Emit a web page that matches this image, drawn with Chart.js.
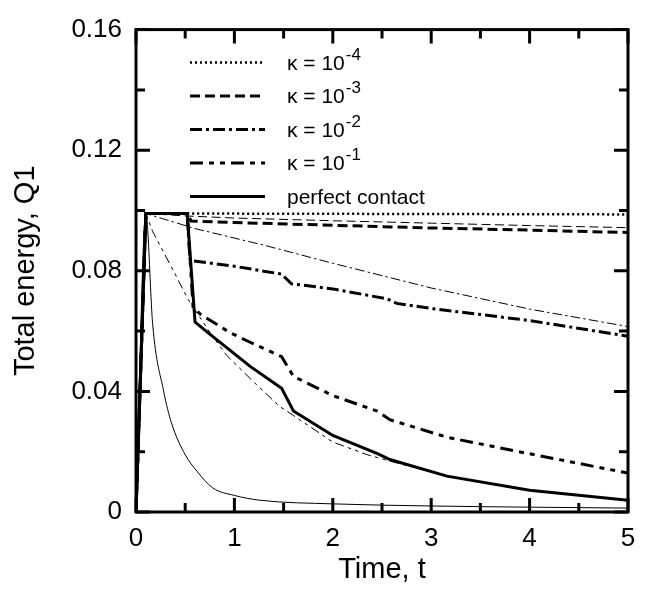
<!DOCTYPE html>
<html>
<head>
<meta charset="utf-8">
<script src="https://cdn.jsdelivr.net/npm/chart.js@4/dist/chart.umd.min.js"></script>
<style>
  html, body { margin: 0; padding: 0; background: #fff; }
  #wrap { width: 648px; height: 590px; }
</style>
</head>
<body>
<div id="wrap"><canvas id="grafico" width="648" height="590"></canvas></div>
<script>
// Datos (t, Q1)
// curvas gruesas (con meseta hasta t = 0.5)
const tK4 = [0, 0.1, 0.52, 5];
const qK4 = [0, 0.099, 0.099, 0.0987];
const tK3 = [0, 0.1, 0.52, 0.56, 1, 2, 3, 4, 5];
const qK3 = [0, 0.099, 0.099, 0.0965, 0.0960, 0.0951, 0.0942, 0.0935, 0.0927];
const tK2 = [0, 0.1, 0.52, 0.55, 1, 1.48, 1.58, 2, 2.55, 2.65, 3, 4, 5];
const qK2 = [0, 0.099, 0.099, 0.0834, 0.0815, 0.0789, 0.0757, 0.0740, 0.0707, 0.0692, 0.0675, 0.0635, 0.0583];
const tK1 = [0, 0.1, 0.52, 0.58, 0.65, 0.95, 1.16, 1.48, 1.6, 2, 2.45, 2.58, 3.16, 4, 5];
const qK1 = [0, 0.099, 0.099, 0.068, 0.0657, 0.0596, 0.0563, 0.0515, 0.045, 0.0386, 0.0335, 0.0306, 0.0248, 0.0193, 0.0129];
const tPC = [0, 0.1, 0.52, 0.6, 0.75, 1.16, 1.48, 1.6, 2, 2.46, 2.58, 3.16, 4, 5];
const qPC = [0, 0.099, 0.099, 0.063, 0.059, 0.0483, 0.041, 0.0335, 0.0254, 0.0193, 0.0174, 0.0119, 0.0072, 0.0039];

// curvas finas (sin meseta)
const tK4f = [0, 0.1, 5];
const qK4f = [0, 0.099, 0.0987];
const tK3f = [0, 0.1, 0.5, 1, 2, 3, 4, 5];
const qK3f = [0, 0.099, 0.0982, 0.0975, 0.0966, 0.0958, 0.0950, 0.0943];
const tK2f = [0, 0.1, 0.6, 1.3, 2, 3, 4, 5];
const qK2f = [0, 0.099, 0.094, 0.0885, 0.0825, 0.0743, 0.0673, 0.0615];
const tK1f = [0, 0.1, 0.17, 0.38, 0.53, 0.75, 0.92, 1.2, 1.46, 1.6, 2, 2.35, 2.6, 3.16, 4, 5];
const qK1f = [0, 0.099, 0.093, 0.080, 0.0705, 0.0596, 0.052, 0.043, 0.035, 0.032, 0.0232, 0.019, 0.0167, 0.0119, 0.0072, 0.0039];
const tPCf = [0, 0.1, 0.17, 0.28, 0.36, 0.5, 0.62, 0.78, 1, 1.26, 2, 3, 4, 5];
const qPCf = [0, 0.099, 0.062, 0.0402, 0.0296, 0.019, 0.0135, 0.008, 0.0055, 0.0039, 0.0027, 0.002, 0.0016, 0.0013];

const xTicks = [0, 1, 2, 3, 4, 5];
const yTicks = [0, 0.04, 0.08, 0.12, 0.16];

const leyenda = [
    { base: 'κ = 10', exp: '-4' },
    { base: 'κ = 10', exp: '-3' },
    { base: 'κ = 10', exp: '-2' },
    { base: 'κ = 10', exp: '-1' },
    { base: 'perfect contact', exp: '' }
];

const FUENTE = '"Liberation Sans", Arial, sans-serif';

// Estilos de línea
const estilos = {
    k4: [2, 3],
    k3: [10, 5],
    k2: [12, 4, 3, 4],
    k1: [13, 6, 5, 6, 5, 6],
    pc: []
};

function puntos(ts, qs) {
    return ts.map((t, i) => ({ x: t, y: qs[i] }));
}

function serie(ts, qs, dash, ancho, extra) {
    return Object.assign({
        data: puntos(ts, qs),
        borderColor: '#000',
        backgroundColor: '#000',
        borderWidth: ancho,
        borderDash: dash,
        pointRadius: 0,
        tension: 0,
        fill: false
    }, extra || {});
}

const escalar = (d, f) => d.map(v => v * f);

const datasets = [
    serie(tK4f, qK4f, [2, 3], 1),
    serie(tK3f, qK3f, escalar(estilos.k3, 0.9), 1),
    serie(tK2f, qK2f, escalar(estilos.k2, 0.8), 1),
    serie(tK1f, qK1f, escalar(estilos.k1, 0.7), 1),
    serie(tPCf, qPCf, [], 1, { cubicInterpolationMode: 'monotone' }),
    serie(tK4, qK4, estilos.k4, 2.5),
    serie(tK3, qK3, estilos.k3, 3),
    serie(tK2, qK2, estilos.k2, 3),
    serie(tK1, qK1, estilos.k1, 3),
    serie(tPC, qPC, estilos.pc, 3)
];
const legendDash = [estilos.k4, estilos.k3, estilos.k2, estilos.k1, estilos.pc];

// Marco y marcas de escala hacia dentro
const marco = {
    id: 'marco',
    afterDatasetsDraw(chart) {
        const { ctx, chartArea: a, scales } = chart;
        ctx.save();
        ctx.strokeStyle = '#000';
        ctx.setLineDash([]);
        ctx.lineWidth = 3;
        ctx.strokeRect(a.left, a.top, a.right - a.left, a.bottom - a.top);
        for (let v = 0; v <= 5.0001; v += 0.5) {
            const x = scales.x.getPixelForValue(v);
            const len = Math.abs(v - Math.round(v)) < 1e-6 ? 14 : 9;
            ctx.beginPath();
            ctx.moveTo(x, a.bottom); ctx.lineTo(x, a.bottom - len);
            ctx.moveTo(x, a.top); ctx.lineTo(x, a.top + len);
            ctx.stroke();
        }
        for (let k = 0; k <= 8; k++) {
            const y = scales.y.getPixelForValue(k * 0.02);
            const len = k % 2 === 0 ? 14 : 9;
            ctx.beginPath();
            ctx.moveTo(a.left, y); ctx.lineTo(a.left + len, y);
            ctx.moveTo(a.right, y); ctx.lineTo(a.right - len, y);
            ctx.stroke();
        }
        ctx.restore();
    }
};

// Leyenda dibujada dentro del área
const leyendaPlugin = {
    id: 'leyendaPlugin',
    afterDraw(chart) {
        const { ctx, chartArea: a } = chart;
        ctx.save();
        ctx.fillStyle = '#000';
        ctx.strokeStyle = '#000';
        ctx.textBaseline = 'alphabetic';
        ctx.textAlign = 'left';
        leyenda.forEach((item, i) => {
            const y = a.top + 33 + i * 33.5;
            ctx.lineWidth = i === 0 ? 2.5 : 3;
            ctx.setLineDash(legendDash[i]);
            ctx.beginPath();
            ctx.moveTo(a.left + 54, y);
            ctx.lineTo(a.left + 129, y);
            ctx.stroke();
            ctx.setLineDash([]);
            ctx.font = '21px ' + FUENTE;
            const x0 = a.left + 151;
            ctx.fillText(item.base, x0, y + 7);
            if (item.exp) {
                const w = ctx.measureText(item.base).width;
                ctx.font = '17px ' + FUENTE;
                ctx.fillText(item.exp, x0 + w + 1, y - 3);
            }
        });
        ctx.restore();
    }
};

const ctx = document.getElementById('grafico').getContext('2d');
const chart = new Chart(ctx, {
    type: 'line',
    data: { datasets: datasets },
    plugins: [marco, leyendaPlugin],
    options: {
        responsive: false,
        animation: false,
        events: [],
        layout: { padding: { left: 0, top: 15, right: 20, bottom: 0 } },
        plugins: { legend: { display: false }, tooltip: { enabled: false } },
        scales: {
            x: {
                type: 'linear',
                min: 0,
                max: 5,
                afterFit: s => { s.height = 78; },
                afterBuildTicks: s => { s.ticks = xTicks.map(v => ({ value: v })); },
                grid: { display: false, drawTicks: false },
                border: { display: false },
                ticks: {
                    padding: 11,
                    color: '#000',
                    font: { family: FUENTE, size: 26 },
                    callback: v => String(v)
                },
                title: {
                    display: true,
                    text: 'Time, t',
                    color: '#000',
                    font: { family: FUENTE, size: 29 },
                    padding: { top: 0, bottom: 3 }
                }
            },
            y: {
                type: 'linear',
                min: 0,
                max: 0.16,
                afterFit: s => { s.width = 136; },
                afterBuildTicks: s => { s.ticks = yTicks.map(v => ({ value: v })); },
                grid: { display: false, drawTicks: false },
                border: { display: false },
                ticks: {
                    padding: 14,
                    color: '#000',
                    font: { family: FUENTE, size: 26 },
                    callback: v => v === 0 ? '0' : Number(v).toFixed(2)
                },
                title: {
                    display: true,
                    text: 'Total energy, Q1',
                    color: '#000',
                    font: { family: FUENTE, size: 29 },
                    padding: { top: 9, bottom: 0 }
                }
            }
        }
    }
});
</script>
</body>
</html>
